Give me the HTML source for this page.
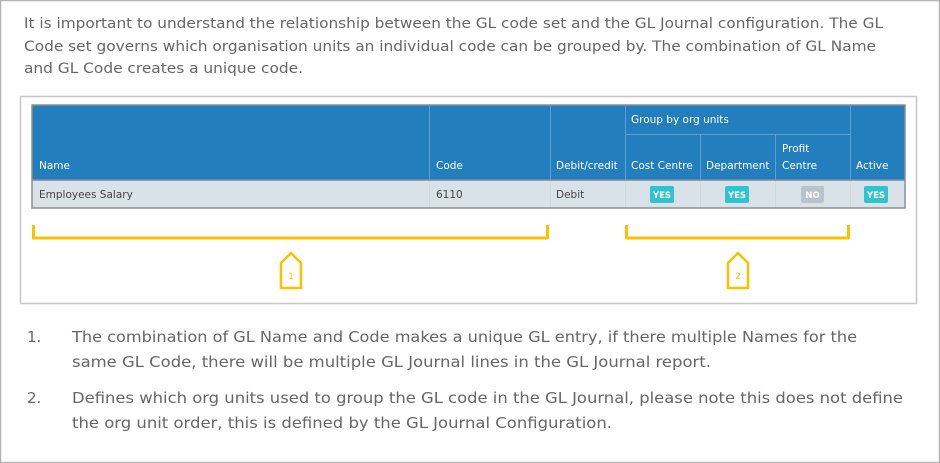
<!DOCTYPE html>
<html><head><meta charset="utf-8"><style>
html,body{margin:0;padding:0;background:#fff;}
svg{display:block}
text{font-family:"DejaVu Sans","Liberation Sans",sans-serif;}
</style></head><body>
<svg width="940" height="463" viewBox="0 0 940 463" xmlns="http://www.w3.org/2000/svg">
<rect x="0.5" y="0.5" width="939" height="462" fill="#fff" stroke="#b5b5b5" stroke-width="1.5"/>
<g fill="#666" font-size="14">
<text x="24" y="28" textLength="859" lengthAdjust="spacingAndGlyphs">It is important to understand the relationship between the GL code set and the GL Journal configuration. The GL</text>
<text x="24" y="51" textLength="852" lengthAdjust="spacingAndGlyphs">Code set governs which organisation units an individual code can be grouped by. The combination of GL Name</text>
<text x="24" y="73" textLength="279" lengthAdjust="spacingAndGlyphs">and GL Code creates a unique code.</text>
</g>
<rect x="20.5" y="96.5" width="896" height="207" fill="#fff" stroke="#c8c8c8" stroke-width="1.5"/>
<!-- table -->
<rect x="32" y="105" width="873" height="75" fill="#227ebd"/>
<rect x="32" y="180" width="873" height="28" fill="#d9e2e9"/>
<g stroke="#5f9fd0" stroke-width="1">
<line x1="429.5" y1="105" x2="429.5" y2="180"/>
<line x1="550.5" y1="105" x2="550.5" y2="180"/>
<line x1="625.5" y1="105" x2="625.5" y2="180"/>
<line x1="700.5" y1="134" x2="700.5" y2="180"/>
<line x1="775.5" y1="134" x2="775.5" y2="180"/>
<line x1="850.5" y1="105" x2="850.5" y2="180"/>
<line x1="625" y1="134.5" x2="850" y2="134.5"/>
</g>
<g stroke="#cfd8df" stroke-width="1">
<line x1="429.5" y1="180" x2="429.5" y2="208"/>
<line x1="550.5" y1="180" x2="550.5" y2="208"/>
<line x1="625.5" y1="180" x2="625.5" y2="208"/>
<line x1="700.5" y1="180" x2="700.5" y2="208"/>
<line x1="775.5" y1="180" x2="775.5" y2="208"/>
<line x1="850.5" y1="180" x2="850.5" y2="208"/>
</g>
<line x1="32" y1="180" x2="905" y2="180" stroke="#7a8a99" stroke-width="1.5"/>
<rect x="32" y="105" width="873" height="103" fill="none" stroke="#8a8f94" stroke-width="1.5"/>
<g fill="#fff" font-size="10.5">
<text x="39" y="169">Name</text>
<text x="436" y="169">Code</text>
<text x="556" y="169">Debit/credit</text>
<text x="631" y="123">Group by org units</text>
<text x="631" y="169">Cost Centre</text>
<text x="706" y="169">Department</text>
<text x="782" y="152">Profit</text>
<text x="782" y="169">Centre</text>
<text x="856" y="169">Active</text>
</g>
<g fill="#444" font-size="10.5">
<text x="39" y="198">Employees Salary</text>
<text x="436" y="198">6110</text>
<text x="556" y="198">Debit</text>
</g>
<g font-size="8.5" font-weight="bold" fill="#fff" text-anchor="middle">
<rect x="650" y="186" width="24" height="17" rx="2" fill="#2fc3d0"/><text x="662" y="198">YES</text>
<rect x="725" y="186" width="24" height="17" rx="2" fill="#2fc3d0"/><text x="737" y="198">YES</text>
<rect x="801" y="186" width="23" height="17" rx="2" fill="#b9c3cd"/><text x="812.5" y="198">NO</text>
<rect x="864" y="186" width="24" height="17" rx="2" fill="#2fc3d0"/><text x="876" y="198">YES</text>
</g>
<!-- brackets -->
<g fill="none" stroke="#fcc000" stroke-width="3" stroke-linejoin="round">
<path d="M33.5 225 V238 H547.5 V225"/>
<path d="M626.5 225 V238 H848.5 V225"/>
<path d="M281 288 V263 L291 253 L301 263 V288 Z" stroke-width="2.5"/>
<path d="M728 288 V263 L738 253 L748 263 V288 Z" stroke-width="2.5"/>
</g>
<g fill="#fcc000" font-size="9" text-anchor="middle">
<text x="291" y="279">1</text>
<text x="738" y="279">2</text>
</g>
<g fill="#666" font-size="15">
<text x="27" y="342">1.</text>
<text x="72" y="342" textLength="785" lengthAdjust="spacingAndGlyphs">The combination of GL Name and Code makes a unique GL entry, if there multiple Names for the</text>
<text x="72" y="367" textLength="639" lengthAdjust="spacingAndGlyphs">same GL Code, there will be multiple GL Journal lines in the GL Journal report.</text>
<text x="27" y="403">2.</text>
<text x="72" y="403" textLength="831" lengthAdjust="spacingAndGlyphs">Defines which org units used to group the GL code in the GL Journal, please note this does not define</text>
<text x="72" y="428" textLength="540" lengthAdjust="spacingAndGlyphs">the org unit order, this is defined by the GL Journal Configuration.</text>
</g>
</svg>
</body></html>
